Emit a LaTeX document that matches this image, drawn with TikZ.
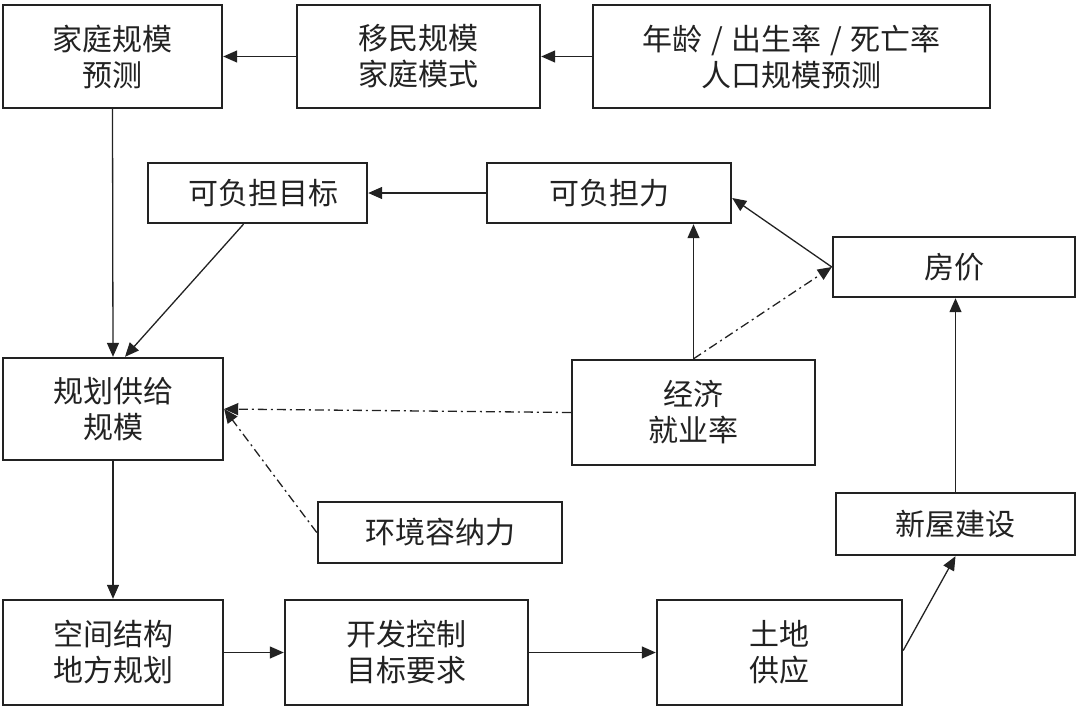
\documentclass[tikz,border=0pt]{standalone}
\usepackage{fontspec}
\setmainfont{Noto Sans CJK SC}
\usetikzlibrary{arrows.meta}
\definecolor{ink}{HTML}{222222}
\newcommand{\slsep}{\hspace{8.5pt}/\hspace{8.5pt}}
\tikzset{
  box/.style={draw=ink, line width=2.4pt, fill=white, align=center, inner sep=0pt,
    font=\fontsize{30}{36}\selectfont, text=ink},
  conn/.style={draw=ink, line width=1.3pt, -{Triangle[length=14pt,width=12pt]}},
  dashdot/.style={conn, dash pattern=on 9pt off 4pt on 2pt off 4pt}
}
\begin{document}
\begin{tikzpicture}[x=1pt,y=-1pt]
\useasboundingbox (0,0) rectangle (1080,707);
% top row
\node[box, minimum width=219pt, minimum height=103pt] (A) at (112.5,56.5) {家庭规模\\预测};
\node[box, minimum width=243pt, minimum height=103pt] (B) at (418.5,56.5) {移民规模\\家庭模式};
\node[box, minimum width=397pt, minimum height=103pt] (C) at (791.5,56.5) {年龄\slsep 出生率\slsep 死亡率\\人口规模预测};
% second row
\node[box, minimum width=219pt, minimum height=60pt] (D) at (257.5,193) {\hspace{12pt}可负担目标};
\node[box, minimum width=244pt, minimum height=60pt] (E) at (609,193) {可负担力};
\node[box, minimum width=242pt, minimum height=60pt] (F) at (954,267) {房价};
% middle
\node[box, minimum width=220pt, minimum height=102pt] (G) at (113,409) {规划供给\\规模};
\node[box, minimum width=243pt, minimum height=105pt] (H) at (693.5,412.5) {经济\\就业率};
\node[box, minimum width=244pt, minimum height=61pt] (I) at (440,532.5) {环境容纳力};
\node[box, minimum width=239pt, minimum height=62pt] (J) at (955.5,524) {新屋建设};
% bottom row
\node[box, minimum width=220pt, minimum height=105pt] (K) at (113,652.5) {空间结构\\地方规划};
\node[box, minimum width=243pt, minimum height=105pt] (L) at (406.5,652.5) {开发控制\\目标要求};
\node[box, minimum width=245pt, minimum height=105pt] (M) at (779.5,652.5) {土地\\供应};
% connectors
\draw[conn] (B.west) -- (A.east);
\draw[conn] (C.west) -- (B.west -| B.east);
\draw[conn] (A.south) -- (G.north);
\draw[conn] ([xshift=-14pt]D.south) -- ([xshift=12pt]G.north);
\draw[conn] (E.west) -- (D.east);
\draw[conn] (F.west) -- ([yshift=-5pt]E.east);
\draw[conn] (H.north) -- (H.north |- E.south);
\draw[dashdot] (H.north) -- (F.west);
\draw[dashdot] (H.west) -- (G.east);
\draw[dashdot] (I.west) -- (G.east);
\draw[conn] (G.south) -- (K.north);
\draw[conn] (K.east) -- (L.west);
\draw[conn] (L.east) -- (M.west);
\draw[conn] ([yshift=2pt]M.east) -- (J.south);
\draw[conn] (J.north) -- (J.north |- F.south);
\end{tikzpicture}
\end{document}
